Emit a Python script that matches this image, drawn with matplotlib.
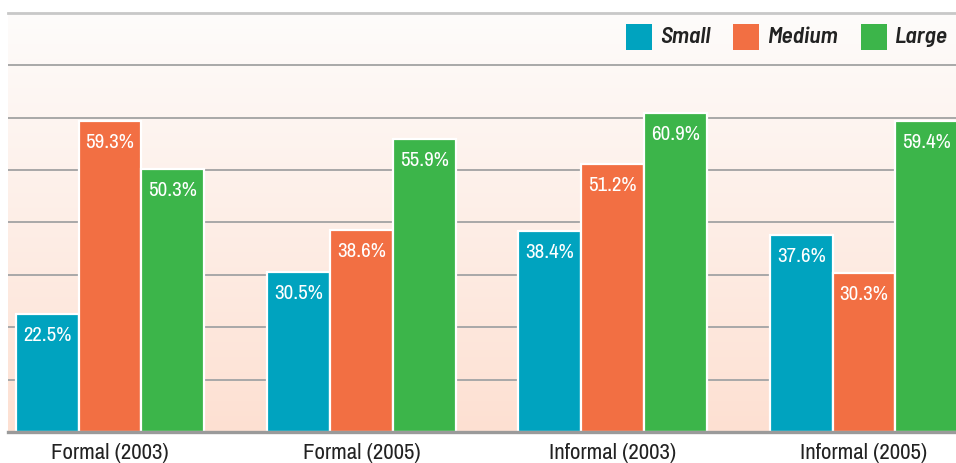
import numpy as np
import matplotlib
matplotlib.use("Agg")
import matplotlib.pyplot as plt
from matplotlib.patches import Rectangle
from matplotlib.colors import LinearSegmentedColormap

plt.rcParams['font.family'] = ['Archivo Narrow', 'Liberation Sans', 'DejaVu Sans']

categories = ["Formal (2003)", "Formal (2005)", "Informal (2003)", "Informal (2005)"]
series_names = ["Small", "Medium", "Large"]
small = [22.5, 30.5, 38.4, 37.6]
medium = [59.3, 38.6, 51.2, 30.3]
large = [50.3, 55.9, 60.9, 59.4]
colors = ["#00a3bf", "#f26f43", "#3cb54a"]

W, H = 956, 463
fig = plt.figure(figsize=(W / 100, H / 100), dpi=100)
left, right, bottom, top = 8, 956, 432, 13
ax = fig.add_axes([left / W, 1 - bottom / H, (right - left) / W, (bottom - top) / H])

ax.set_xlim(-0.406, 3.366)
ax.set_ylim(0, 80)

# gradient background
grad = np.linspace(0, 1, 256).reshape(-1, 1)
cmap = LinearSegmentedColormap.from_list("bg", ["#fde0d2", "#fefcfb"])
ax.imshow(grad, extent=(-0.406, 3.366, 0, 80), origin="lower", aspect="auto",
          cmap=cmap, zorder=0)

# gridlines
for yv in range(10, 80, 10):
    ax.axhline(yv, color="#a8a8a8", lw=1.4, zorder=1)
ax.axhline(80, color="#c8c8c8", lw=2.0, zorder=1, clip_on=False)
ax.axhline(0, color="#9a9a9a", lw=2.4, zorder=4, clip_on=False)

x = np.arange(len(categories))
bw = 0.25
for i, (vals, c) in enumerate(zip([small, medium, large], colors)):
    xs = x + (i - 1) * bw
    ax.bar(xs, vals, width=bw, color=c, edgecolor="white", linewidth=1.6, zorder=3)
    for xv, v in zip(xs, vals):
        ax.annotate(f"{v}%", (xv, v), xytext=(0, -15.5), textcoords="offset points",
                    ha="center", va="center", color="white", fontsize=15,
                    fontweight="medium", zorder=5)

for s in ax.spines.values():
    s.set_visible(False)
ax.set_yticks([])
ax.set_xticks(x)
ax.set_xticklabels(categories, fontsize=16.5, color="#222222")
ax.tick_params(axis="x", length=0, pad=8)

# legend
sq = 26
items = [(626, 660), (733, 767), (861, 895)]
for (sx, tx), name, c in zip(items, series_names, colors):
    fig.add_artist(Rectangle((sx / W, 1 - 50 / H), sq / W, sq / H, transform=fig.transFigure,
                             facecolor=c, edgecolor="none"))
    fig.text(tx / W, 1 - 37 / H, name, ha="left", va="center", fontsize=17,
             fontstyle="italic", fontweight=600, color="#222222",
             family=['Barlow Semi Condensed', 'Archivo Narrow', 'DejaVu Sans'])

fig.savefig("out.png", dpi=100, facecolor="white")
